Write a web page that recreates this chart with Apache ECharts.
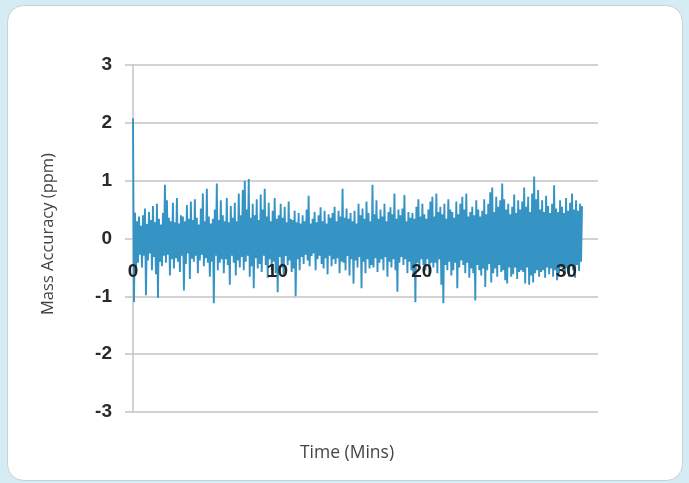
<!DOCTYPE html>
<html>
<head>
<meta charset="utf-8">
<script src="https://cdn.jsdelivr.net/npm/echarts@6/dist/echarts.min.js"></script>
<style>
html,body{margin:0;padding:0;background:#d5ecf5;}
#chart{width:689px;height:483px;}
</style>
</head>
<body>
<div id="chart"></div>
<script>
// Mass accuracy (ppm) samples, evenly spaced in time
const massAccuracy = [
2.08,-1.10,0.45,-0.55,0.30,-0.42,0.38,-0.28,0.22,-0.50,
0.40,-0.30,0.52,-0.98,0.25,-0.38,0.46,-0.26,0.32,-0.55,
0.56,-0.32,0.28,-0.62,0.60,-1.03,0.34,-0.40,0.24,-0.48,
0.44,-0.30,0.93,-0.42,0.66,-0.28,0.36,-0.64,0.30,-0.36,
0.62,-0.52,0.28,-0.34,0.70,-0.40,0.26,-0.58,0.40,-0.30,
0.38,-0.90,0.30,-0.44,0.58,-0.26,0.34,-0.70,0.64,-0.35,
0.32,-0.40,0.68,-0.30,0.36,-0.60,0.24,-0.38,0.52,-0.28,
0.78,-0.48,0.30,-0.34,0.86,-0.42,0.38,-0.66,0.26,-0.40,
0.34,-1.12,0.50,-0.30,0.95,-0.55,0.32,-0.42,0.66,-0.36,
0.40,-0.60,0.30,-0.36,0.70,-0.46,0.28,-0.80,0.56,-0.30,
0.36,-0.42,0.62,-0.64,0.30,-0.38,0.78,-0.50,0.40,-0.32,
0.84,-0.55,1.00,-0.40,0.50,-0.30,1.03,-0.66,0.36,-0.48,
0.60,-0.86,0.40,-0.34,0.68,-0.52,0.32,-0.44,0.76,-0.58,
0.50,-0.30,0.86,-0.46,0.38,-0.68,0.62,-0.36,0.30,-0.55,
0.48,-0.40,0.70,-0.60,0.34,-0.93,0.40,-0.32,0.60,-0.50,
0.36,-0.66,0.55,-0.30,0.28,-0.46,0.64,-0.38,0.34,-0.58,
0.32,-0.52,0.48,-1.00,0.28,-0.36,0.44,-0.55,0.26,-0.32,
0.40,-0.44,0.30,-0.28,0.50,-0.38,0.74,-0.48,0.26,-0.30,
0.34,-0.26,0.46,-0.55,0.28,-0.36,0.40,-0.30,0.54,-0.44,
0.30,-0.52,0.48,-0.34,0.26,-0.62,0.42,-0.30,0.36,-0.48,
0.44,-0.36,0.55,-0.44,0.30,-0.34,0.48,-0.60,0.38,-0.40,
0.86,-0.42,0.36,-0.55,0.52,-0.30,0.34,-0.64,0.44,-0.36,
0.30,-0.78,0.48,-0.38,0.26,-0.50,0.60,-0.32,0.40,-0.86,
0.52,-0.40,0.34,-0.60,0.64,-0.36,0.44,-0.52,0.30,-0.46,
0.93,-0.50,0.42,-0.34,0.66,-0.58,0.34,-0.42,0.50,-0.36,
0.38,-0.55,0.60,-0.32,0.30,-0.66,0.46,-0.40,0.54,-0.50,
0.42,-0.36,0.78,-0.55,0.34,-0.92,0.50,-0.42,0.40,-0.32,
0.52,-0.46,0.75,-0.36,0.30,-0.60,0.46,-0.40,0.36,-0.55,
0.44,-0.64,0.34,-1.10,0.55,-0.42,0.68,-0.50,0.38,-0.36,
0.60,-0.46,0.42,-0.55,0.34,-0.36,0.50,-0.66,0.64,-0.42,
0.72,-0.50,0.38,-0.42,0.78,-0.60,0.46,-0.36,0.55,-0.80,
0.42,-1.12,0.60,-0.46,0.34,-0.55,0.68,-0.40,0.50,-0.64,
0.46,-0.55,0.36,-0.42,0.64,-0.86,0.42,-0.50,0.60,-0.38,
0.72,-0.46,0.50,-0.60,0.78,-0.42,0.38,-0.68,0.46,-0.52,
0.55,-0.60,0.40,-1.07,0.66,-0.46,0.50,-0.55,0.38,-0.64,
0.48,-0.52,0.68,-0.84,0.42,-0.55,0.60,-0.44,0.80,-0.76,
0.88,-0.60,0.46,-0.52,0.72,-0.66,0.55,-0.46,0.66,-0.58,
0.95,-0.55,0.68,-0.72,0.50,-0.78,0.60,-0.50,0.42,-0.66,
0.55,-0.62,0.76,-0.50,0.44,-0.70,0.66,-0.58,0.50,-0.55,
0.64,-0.58,0.88,-0.78,0.55,-0.50,0.72,-0.80,0.46,-0.64,
0.78,-0.76,1.07,-0.60,0.68,-0.55,0.84,-0.66,0.50,-0.58,
0.66,-0.55,0.46,-0.68,0.74,-0.50,0.56,-0.62,0.44,-0.52,
0.60,-0.66,0.92,-0.55,0.52,-0.72,0.46,-0.60,0.66,-0.50,
0.55,-0.48,0.44,-0.62,0.70,-0.52,0.48,-0.66,0.62,-0.46,
0.78,-0.55,0.50,-0.68,0.66,-0.46,0.48,-0.56,0.60,-0.40,0.56
];
const sampleIntervalMins = 0.0691;   // time between samples
const xTicks = [0, 10, 20, 30];
const yTicks = [-3, -2, -1, 0, 1, 2, 3];
const xTitle = 'Time (Mins)';
const yTitle = 'Mass Accuracy (ppm)';

const seriesData = massAccuracy.map((v, i) => [i * sampleIntervalMins, v]);

const chart = echarts.init(document.getElementById('chart'), null, {renderer: 'canvas'});
const gridColor = '#c4c4c4';
const gridTop = 65, gridBottomPx = 412;
// the x axis crosses the y axis at 0: offset it up from the bottom of the grid
const zeroOffset = -(gridBottomPx - gridTop) * (0 - yTicks[0]) / (yTicks[yTicks.length - 1] - yTicks[0]);
chart.setOption({
  animation: false,
  backgroundColor: '#d5ecf5',
  graphic: [
    {type: 'rect', z: -10, shape: {x: 7.5, y: 5.5, width: 675, height: 475, r: 16},
     style: {fill: '#ffffff', stroke: '#c9cfd2', lineWidth: 1}},
    {type: 'text', x: 347, y: 453, style: {text: xTitle, fill: '#444', font: '17.5px "Open Sans"', align: 'center', verticalAlign: 'middle'}},
    {type: 'text', x: 48, y: 234, rotation: Math.PI / 2, style: {text: yTitle, fill: '#444', font: '16.5px "Open Sans"', align: 'center', verticalAlign: 'middle'}}
  ],
  grid: {left: 133, right: 91, top: gridTop, bottom: 483 - gridBottomPx, containLabel: false},
  xAxis: {
    type: 'value', min: xTicks[0], max: 32.2, interval: 10,
    offset: zeroOffset, z: 10,
    axisLine: {show: false, onZero: false},
    axisTick: {show: false},
    splitLine: {show: false},
    axisLabel: {
      margin: 24, color: '#222', fontSize: 19, fontWeight: 'bold', fontFamily: '"Liberation Sans", Arial',
      showMaxLabel: false,
      formatter: v => xTicks.includes(v) ? String(v) : ''
    }
  },
  yAxis: {
    type: 'value', min: yTicks[0], max: yTicks[yTicks.length - 1], interval: 1,
    axisLine: {show: true, lineStyle: {color: gridColor, width: 1.5}},
    axisTick: {show: true, length: 8, lineStyle: {color: gridColor, width: 1.5}},
    splitLine: {show: true, lineStyle: {color: gridColor, width: 1.5}},
    axisLabel: {margin: 21, color: '#2a2a2a', fontSize: 19, fontWeight: 'bold', fontFamily: '"Liberation Sans", Arial'}
  },
  series: [{
    type: 'line', data: seriesData, showSymbol: false, symbol: 'none',
    lineStyle: {color: '#3694c5', width: 1.9}, sampling: null, z: 3
  }]
});
</script>
</body>
</html>
